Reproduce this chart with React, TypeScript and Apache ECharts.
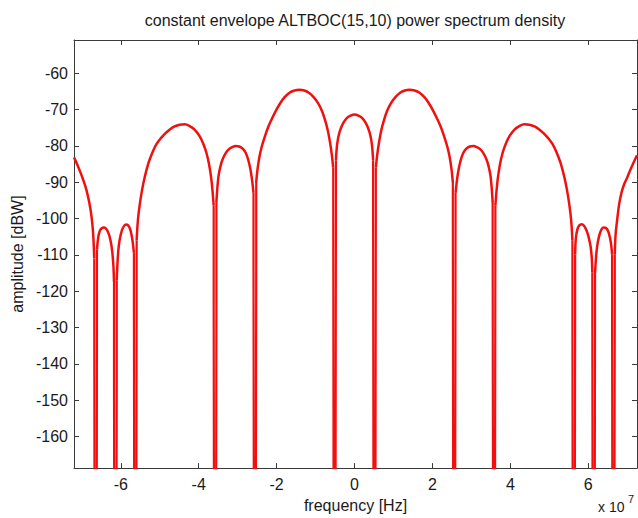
import React, { useEffect, useRef } from 'react';
import * as echarts from 'echarts';

// frequency in units of 1e7 Hz; null separates lobes between spectral nulls
const curveFreq: (number | null)[] = [
  -7.2, -7.12, -7.04, -6.96, -6.88, -6.81, -6.75, -6.71, -6.68, null,
  -6.61, -6.58, -6.54, -6.49, -6.43, -6.37, -6.31, -6.26, -6.22, -6.19, -6.173, null,
  -6.103, -6.08, -6.05, -6.0, -5.94, -5.87, -5.81, -5.76, -5.72, -5.69, -5.662, null,
  -5.592, -5.56, -5.51, -5.45, -5.38, -5.29, -5.19, -5.08, -4.97, -4.85, -4.74, -4.62, -4.49, -4.36, -4.23, -4.1, -3.98, -3.88, -3.8, -3.73, -3.675, -3.64, -3.615, null,
  -3.545, -3.52, -3.49, -3.44, -3.38, -3.31, -3.23, -3.14, -3.05, -2.96, -2.87, -2.79, -2.72, -2.67, -2.63, -2.593, null,
  -2.523, -2.49, -2.44, -2.38, -2.3, -2.22, -2.13, -2.03, -1.92, -1.8, -1.67, -1.54, -1.41, -1.29, -1.17, -1.05, -0.94, -0.84, -0.76, -0.69, -0.63, -0.585, -0.547, null,
  -0.477, -0.45, -0.41, -0.35, -0.28, -0.2, -0.1, 0, 0.1, 0.2, 0.28, 0.35, 0.41, 0.45, 0.477, null,
  0.547, 0.585, 0.63, 0.69, 0.76, 0.84, 0.94, 1.05, 1.17, 1.29, 1.41, 1.54, 1.67, 1.8, 1.92, 2.03, 2.13, 2.22, 2.3, 2.38, 2.44, 2.49, 2.523, null,
  2.593, 2.63, 2.67, 2.72, 2.79, 2.87, 2.96, 3.05, 3.14, 3.23, 3.31, 3.38, 3.44, 3.49, 3.52, 3.545, null,
  3.615, 3.64, 3.675, 3.73, 3.8, 3.88, 3.98, 4.1, 4.23, 4.36, 4.49, 4.62, 4.74, 4.85, 4.97, 5.08, 5.19, 5.29, 5.38, 5.45, 5.51, 5.56, 5.592, null,
  5.662, 5.68, 5.72, 5.77, 5.83, 5.89, 5.95, 6.01, 6.06, 6.09, 6.103, null,
  6.173, 6.2, 6.23, 6.27, 6.33, 6.39, 6.45, 6.51, 6.56, 6.59, 6.61, null,
  6.68, 6.7, 6.74, 6.79, 6.85, 6.92, 7.0, 7.08, 7.16, 7.25,
];

// amplitude in dBW
const curveAmp: (number | null)[] = [
  -83.2, -85.1, -87.2, -89.5, -92.2, -95.5, -99.5, -104, -111, null,
  -108.5, -105.3, -103.5, -102.7, -102.5, -102.9, -104.2, -106.2, -109.0, -112.8, -117.5, null,
  -117, -111.5, -107.5, -104.4, -102.5, -101.7, -101.9, -102.9, -104.7, -106.8, -109.5, null,
  -106, -100.5, -96.0, -92.0, -88.4, -84.8, -81.9, -79.5, -77.9, -76.5, -75.5, -74.7, -74.2, -74.1, -74.6, -75.6, -77.3, -79.5, -82.0, -85.3, -89.2, -93.0, -96.5, null,
  -95.5, -91.5, -88.3, -85.6, -83.6, -82.1, -81.0, -80.4, -80.1, -80.2, -80.8, -82.0, -84.2, -86.6, -89.4, -93, null,
  -90, -86.5, -83, -80.2, -77.4, -75, -72.8, -70.6, -68.5, -66.7, -65.4, -64.8, -64.6, -64.8, -65.4, -66.6, -68.2, -70.3, -72.8, -75.6, -79.0, -82.3, -86, null,
  -84, -80, -77.3, -75.2, -73.6, -72.4, -71.7, -71.4, -71.7, -72.4, -73.6, -75.2, -77.3, -80, -84, null,
  -86, -82.3, -79.0, -75.6, -72.8, -70.3, -68.2, -66.6, -65.4, -64.8, -64.6, -64.8, -65.4, -66.7, -68.5, -70.6, -72.8, -75, -77.4, -80.2, -83, -86.5, -90, null,
  -93, -89.4, -86.6, -84.2, -82.0, -80.8, -80.2, -80.1, -80.4, -81.0, -82.1, -83.6, -85.6, -88.3, -91.5, -95.5, null,
  -96.5, -93.0, -89.2, -85.3, -82.0, -79.5, -77.3, -75.6, -74.6, -74.1, -74.2, -74.7, -75.5, -76.5, -77.9, -79.5, -81.9, -84.8, -88.4, -92.0, -96.0, -100.5, -106, null,
  -110, -105.5, -103, -101.9, -101.6, -102.0, -103.2, -105.2, -107.8, -111, -114.8, null,
  -115, -110.5, -107.5, -105.2, -103.2, -102.5, -102.6, -103.5, -105.5, -107.5, -110, null,
  -110, -104.5, -100.5, -96.2, -93.0, -90.6, -88.7, -86.6, -84.7, -82.6,
];

// spectral nulls (1e7 Hz) and the level where the sampled trace thins out
const nullFreq = [-6.645, -6.138, -5.627, -3.58, -2.558, -0.512, 0.512, 2.558, 3.58, 5.627, 6.138, 6.645];
const nullThickDepth = [-130, -145, -125, -124, -112, -93, -99, -101, -106, -127, -127, -120];
const nullFloor = -400;

const titleText = 'constant envelope ALTBOC(15,10) power spectrum density';
const xName = 'frequency [Hz]';
const yName = 'amplitude [dBW]';
const xExponent = '7';

const RED = '#f01010';
const AXIS = '#3a3a3a';
const TEXT = '#1a1a1a';
const FONT = 'Liberation Sans, Arial, sans-serif';

function buildSegments(): number[][][] {
  const segs: number[][][] = [];
  let cur: number[][] = [];
  for (let i = 0; i < curveFreq.length; i++) {
    const f = curveFreq[i];
    const a = curveAmp[i];
    if (f === null || a === null) {
      if (cur.length) segs.push(cur);
      cur = [];
    } else {
      cur.push([f, a]);
    }
  }
  if (cur.length) segs.push(cur);
  return segs;
}

export default function App() {
  const ref = useRef<HTMLDivElement>(null);
  useEffect(() => {
    if (!ref.current) return;
    const chart = echarts.init(ref.current, null, { renderer: 'svg' });
    const segs = buildSegments();
    const lineStyle = { color: RED, width: 2.5 };
    const series: any[] = segs.map((s) => ({
      type: 'line',
      data: s,
      smooth: 0.35,
      showSymbol: false,
      symbol: 'none',
      lineStyle,
      silent: true,
      clip: true,
      xAxisIndex: 0,
      yAxisIndex: 0,
    }));
    nullFreq.forEach((nf, i) => {
      const left = segs[i][segs[i].length - 1];
      const right = segs[i + 1][0];
      const depth = nullThickDepth[i];
      series.push({
        type: 'line',
        data: [
          [left[0], left[1]],
          [left[0], depth],
          [nf, nullFloor],
          [right[0], depth],
          [right[0], right[1]],
        ],
        smooth: false,
        showSymbol: false,
        symbol: 'none',
        lineStyle: { color: RED, width: 2.2 },
        silent: true,
        clip: true,
        xAxisIndex: 0,
        yAxisIndex: 0,
      });
    });

    const xMin = -7.2, xMax = 7.25, yMin = -168.7, yMax = -50.9;
    const axisLine = { show: true, onZero: false, lineStyle: { color: AXIS, width: 1 } };
    const axisTick = { show: true, inside: true, length: 5, lineStyle: { color: AXIS, width: 1 } };

    chart.setOption({
      animation: false,
      backgroundColor: '#ffffff',
      grid: { left: 74, right: 1, top: 40, bottom: 48, containLabel: false },
      xAxis: [
        {
          type: 'value', min: xMin, max: xMax, splitNumber: 7, position: 'bottom',
          axisLine, axisTick, splitLine: { show: false },
          axisLabel: { fontSize: 16, color: TEXT, fontFamily: FONT, margin: 8, showMinLabel: false, showMaxLabel: false },
          name: xName, nameLocation: 'middle', nameGap: 27,
          nameTextStyle: { fontSize: 16, color: TEXT, fontFamily: FONT },
        },
        {
          type: 'value', min: xMin, max: xMax, splitNumber: 7, position: 'top',
          axisLine, axisTick, splitLine: { show: false }, axisLabel: { show: false },
        },
      ],
      yAxis: [
        {
          type: 'value', min: yMin, max: yMax, splitNumber: 12, position: 'left',
          axisLine, axisTick, splitLine: { show: false },
          axisLabel: { fontSize: 16, color: TEXT, fontFamily: FONT, margin: 6, showMinLabel: false, showMaxLabel: false },
          name: yName, nameLocation: 'middle', nameGap: 46,
          nameTextStyle: { fontSize: 16, color: TEXT, fontFamily: FONT },
        },
        {
          type: 'value', min: yMin, max: yMax, splitNumber: 12, position: 'right',
          axisLine, axisTick, splitLine: { show: false }, axisLabel: { show: false },
        },
      ],
      graphic: [
        {
          type: 'text', x: 355, y: 20,
          style: { text: titleText, textAlign: 'center', textVerticalAlign: 'middle', font: `16px ${FONT}`, fill: TEXT },
        },
        {
          type: 'text', x: 598, y: 500,
          style: { text: 'x 10', textAlign: 'left', textVerticalAlign: 'top', font: `14px ${FONT}`, fill: TEXT },
        },
        {
          type: 'text', x: 628, y: 493,
          style: { text: xExponent, textAlign: 'left', textVerticalAlign: 'top', font: `11px ${FONT}`, fill: TEXT },
        },
      ],
      series,
    });
    return () => chart.dispose();
  }, []);
  return <div ref={ref} style={{ width: 638, height: 518, position: 'absolute', left: 0, top: 0, background: '#fff' }} />;
}
